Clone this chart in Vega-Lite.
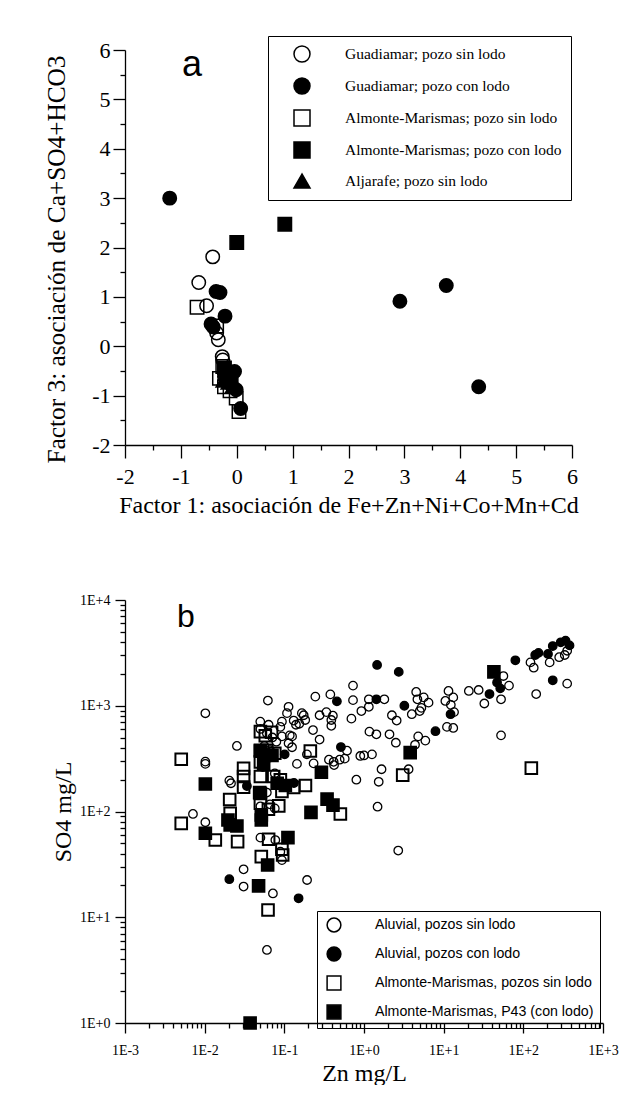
{
  "$schema": "https://vega.github.io/schema/vega-lite/v6.json",
  "background": "white",
  "padding": {"left": 44, "top": 35, "right": 0, "bottom": 0},
  "spacing": 76,
  "resolve": {
    "scale": {"shape": "independent", "fill": "independent", "stroke": "independent"},
    "legend": {"shape": "independent", "fill": "independent", "stroke": "independent"}
  },
  "config": {
    "view": {"stroke": null},
    "legend": {"symbolStrokeColor": "black"},
    "axis": {
      "grid": false,
      "labelFont": "Liberation Serif",
      "titleFont": "Liberation Serif",
      "titleFontWeight": "normal",
      "labelColor": "black",
      "titleColor": "black",
      "domainColor": "black",
      "tickColor": "black",
      "domainWidth": 1.3,
      "tickWidth": 1.3,
      "labelOverlap": false,
      "labelFlush": false
    }
  },
  "datasets": {
    "pa": [
      {"x": -0.43, "y": 1.81, "g": "Guadiamar; pozo sin lodo"},
      {"x": -0.68, "y": 1.29, "g": "Guadiamar; pozo sin lodo"},
      {"x": -0.54, "y": 0.82, "g": "Guadiamar; pozo sin lodo"},
      {"x": -0.36, "y": 0.27, "g": "Guadiamar; pozo sin lodo"},
      {"x": -0.33, "y": 0.13, "g": "Guadiamar; pozo sin lodo"},
      {"x": -0.26, "y": -0.21, "g": "Guadiamar; pozo sin lodo"},
      {"x": -0.25, "y": -0.28, "g": "Guadiamar; pozo sin lodo"},
      {"x": -0.71, "y": 0.79, "g": "Almonte-Marismas; pozo sin lodo"},
      {"x": -0.36, "y": 0.41, "g": "Almonte-Marismas; pozo sin lodo"},
      {"x": -0.31, "y": -0.65, "g": "Almonte-Marismas; pozo sin lodo"},
      {"x": -0.22, "y": -0.82, "g": "Almonte-Marismas; pozo sin lodo"},
      {"x": -0.01, "y": -1.05, "g": "Almonte-Marismas; pozo sin lodo"},
      {"x": 0.04, "y": -1.32, "g": "Almonte-Marismas; pozo sin lodo"},
      {"x": -0.25, "y": -0.41, "g": "Almonte-Marismas; pozo sin lodo"},
      {"x": -0.12, "y": -0.9, "g": "Almonte-Marismas; pozo sin lodo"},
      {"x": -1.2, "y": 3.0, "g": "Guadiamar; pozo con lodo"},
      {"x": 2.92, "y": 0.91, "g": "Guadiamar; pozo con lodo"},
      {"x": 3.75, "y": 1.23, "g": "Guadiamar; pozo con lodo"},
      {"x": 4.33, "y": -0.82, "g": "Guadiamar; pozo con lodo"},
      {"x": -0.37, "y": 1.11, "g": "Guadiamar; pozo con lodo"},
      {"x": -0.3, "y": 1.09, "g": "Guadiamar; pozo con lodo"},
      {"x": -0.21, "y": 0.61, "g": "Guadiamar; pozo con lodo"},
      {"x": -0.46, "y": 0.45, "g": "Guadiamar; pozo con lodo"},
      {"x": -0.42, "y": 0.39, "g": "Guadiamar; pozo con lodo"},
      {"x": -0.04, "y": -0.51, "g": "Guadiamar; pozo con lodo"},
      {"x": -0.1, "y": -0.78, "g": "Guadiamar; pozo con lodo"},
      {"x": -0.01, "y": -0.88, "g": "Guadiamar; pozo con lodo"},
      {"x": 0.07, "y": -1.26, "g": "Guadiamar; pozo con lodo"},
      {"x": -0.16, "y": -0.58, "g": "Guadiamar; pozo con lodo"},
      {"x": -0.22, "y": -0.62, "g": "Guadiamar; pozo con lodo"},
      {"x": 0.0, "y": 2.1, "g": "Almonte-Marismas; pozo con lodo"},
      {"x": 0.86, "y": 2.47, "g": "Almonte-Marismas; pozo con lodo"},
      {"x": -0.22, "y": -0.44, "g": "Almonte-Marismas; pozo con lodo"},
      {"x": -0.15, "y": -0.55, "g": "Almonte-Marismas; pozo con lodo"},
      {"x": -0.1, "y": -0.7, "g": "Almonte-Marismas; pozo con lodo"},
      {"x": -0.25, "y": -0.71, "g": "Aljarafe; pozo sin lodo"},
      {"x": -0.16, "y": -0.75, "g": "Aljarafe; pozo sin lodo"},
      {"x": -0.08, "y": -0.82, "g": "Aljarafe; pozo sin lodo"}
    ],
    "pb": [
      {"zn": 123, "so4": 2570, "g": "Aluvial, pozos sin lodo"},
      {"zn": 135, "so4": 2290, "g": "Aluvial, pozos sin lodo"},
      {"zn": 214, "so4": 2570, "g": "Aluvial, pozos sin lodo"},
      {"zn": 282, "so4": 2880, "g": "Aluvial, pozos sin lodo"},
      {"zn": 331, "so4": 3020, "g": "Aluvial, pozos sin lodo"},
      {"zn": 355, "so4": 3310, "g": "Aluvial, pozos sin lodo"},
      {"zn": 145, "so4": 1290, "g": "Aluvial, pozos sin lodo"},
      {"zn": 355, "so4": 1620, "g": "Aluvial, pozos sin lodo"},
      {"zn": 56.2, "so4": 1910, "g": "Aluvial, pozos sin lodo"},
      {"zn": 66.1, "so4": 1550, "g": "Aluvial, pozos sin lodo"},
      {"zn": 52.5, "so4": 1150, "g": "Aluvial, pozos sin lodo"},
      {"zn": 52.5, "so4": 525, "g": "Aluvial, pozos sin lodo"},
      {"zn": 20.7, "so4": 1380, "g": "Aluvial, pozos sin lodo"},
      {"zn": 27.5, "so4": 1410, "g": "Aluvial, pozos sin lodo"},
      {"zn": 32.4, "so4": 1050, "g": "Aluvial, pozos sin lodo"},
      {"zn": 11.5, "so4": 1380, "g": "Aluvial, pozos sin lodo"},
      {"zn": 10.5, "so4": 1110, "g": "Aluvial, pozos sin lodo"},
      {"zn": 13.2, "so4": 1200, "g": "Aluvial, pozos sin lodo"},
      {"zn": 12.3, "so4": 1020, "g": "Aluvial, pozos sin lodo"},
      {"zn": 13.5, "so4": 871, "g": "Aluvial, pozos sin lodo"},
      {"zn": 11.0, "so4": 631, "g": "Aluvial, pozos sin lodo"},
      {"zn": 13.2, "so4": 617, "g": "Aluvial, pozos sin lodo"},
      {"zn": 4.52, "so4": 1350, "g": "Aluvial, pozos sin lodo"},
      {"zn": 4.68, "so4": 1150, "g": "Aluvial, pozos sin lodo"},
      {"zn": 5.62, "so4": 1200, "g": "Aluvial, pozos sin lodo"},
      {"zn": 6.46, "so4": 1070, "g": "Aluvial, pozos sin lodo"},
      {"zn": 5.25, "so4": 955, "g": "Aluvial, pozos sin lodo"},
      {"zn": 5.01, "so4": 891, "g": "Aluvial, pozos sin lodo"},
      {"zn": 3.98, "so4": 832, "g": "Aluvial, pozos sin lodo"},
      {"zn": 2.24, "so4": 813, "g": "Aluvial, pozos sin lodo"},
      {"zn": 2.57, "so4": 724, "g": "Aluvial, pozos sin lodo"},
      {"zn": 1.8, "so4": 1150, "g": "Aluvial, pozos sin lodo"},
      {"zn": 1.15, "so4": 1150, "g": "Aluvial, pozos sin lodo"},
      {"zn": 1.15, "so4": 977, "g": "Aluvial, pozos sin lodo"},
      {"zn": 1.17, "so4": 569, "g": "Aluvial, pozos sin lodo"},
      {"zn": 1.43, "so4": 537, "g": "Aluvial, pozos sin lodo"},
      {"zn": 2.09, "so4": 537, "g": "Aluvial, pozos sin lodo"},
      {"zn": 2.51, "so4": 447, "g": "Aluvial, pozos sin lodo"},
      {"zn": 4.79, "so4": 513, "g": "Aluvial, pozos sin lodo"},
      {"zn": 5.89, "so4": 468, "g": "Aluvial, pozos sin lodo"},
      {"zn": 4.37, "so4": 427, "g": "Aluvial, pozos sin lodo"},
      {"zn": 1.0, "so4": 339, "g": "Aluvial, pozos sin lodo"},
      {"zn": 1.26, "so4": 347, "g": "Aluvial, pozos sin lodo"},
      {"zn": 1.66, "so4": 251, "g": "Aluvial, pozos sin lodo"},
      {"zn": 1.53, "so4": 191, "g": "Aluvial, pozos sin lodo"},
      {"zn": 1.48, "so4": 111, "g": "Aluvial, pozos sin lodo"},
      {"zn": 3.63, "so4": 251, "g": "Aluvial, pozos sin lodo"},
      {"zn": 2.69, "so4": 42.7, "g": "Aluvial, pozos sin lodo"},
      {"zn": 0.728, "so4": 1550, "g": "Aluvial, pozos sin lodo"},
      {"zn": 0.245, "so4": 1220, "g": "Aluvial, pozos sin lodo"},
      {"zn": 0.378, "so4": 1280, "g": "Aluvial, pozos sin lodo"},
      {"zn": 0.728, "so4": 1130, "g": "Aluvial, pozos sin lodo"},
      {"zn": 0.927, "so4": 891, "g": "Aluvial, pozos sin lodo"},
      {"zn": 0.407, "so4": 805, "g": "Aluvial, pozos sin lodo"},
      {"zn": 0.337, "so4": 871, "g": "Aluvial, pozos sin lodo"},
      {"zn": 0.277, "so4": 813, "g": "Aluvial, pozos sin lodo"},
      {"zn": 0.166, "so4": 851, "g": "Aluvial, pozos sin lodo"},
      {"zn": 0.183, "so4": 733, "g": "Aluvial, pozos sin lodo"},
      {"zn": 0.154, "so4": 676, "g": "Aluvial, pozos sin lodo"},
      {"zn": 0.131, "so4": 724, "g": "Aluvial, pozos sin lodo"},
      {"zn": 0.14, "so4": 661, "g": "Aluvial, pozos sin lodo"},
      {"zn": 0.113, "so4": 977, "g": "Aluvial, pozos sin lodo"},
      {"zn": 0.108, "so4": 851, "g": "Aluvial, pozos sin lodo"},
      {"zn": 0.0933, "so4": 708, "g": "Aluvial, pozos sin lodo"},
      {"zn": 0.0622, "so4": 1120, "g": "Aluvial, pozos sin lodo"},
      {"zn": 0.389, "so4": 733, "g": "Aluvial, pozos sin lodo"},
      {"zn": 0.389, "so4": 646, "g": "Aluvial, pozos sin lodo"},
      {"zn": 0.229, "so4": 589, "g": "Aluvial, pozos sin lodo"},
      {"zn": 0.277, "so4": 479, "g": "Aluvial, pozos sin lodo"},
      {"zn": 0.612, "so4": 376, "g": "Aluvial, pozos sin lodo"},
      {"zn": 0.899, "so4": 335, "g": "Aluvial, pozos sin lodo"},
      {"zn": 0.363, "so4": 309, "g": "Aluvial, pozos sin lodo"},
      {"zn": 0.416, "so4": 295, "g": "Aluvial, pozos sin lodo"},
      {"zn": 0.495, "so4": 309, "g": "Aluvial, pozos sin lodo"},
      {"zn": 0.573, "so4": 316, "g": "Aluvial, pozos sin lodo"},
      {"zn": 0.802, "so4": 200, "g": "Aluvial, pozos sin lodo"},
      {"zn": 0.144, "so4": 282, "g": "Aluvial, pozos sin lodo"},
      {"zn": 0.192, "so4": 347, "g": "Aluvial, pozos sin lodo"},
      {"zn": 0.233, "so4": 285, "g": "Aluvial, pozos sin lodo"},
      {"zn": 0.113, "so4": 442, "g": "Aluvial, pozos sin lodo"},
      {"zn": 0.125, "so4": 513, "g": "Aluvial, pozos sin lodo"},
      {"zn": 0.0933, "so4": 513, "g": "Aluvial, pozos sin lodo"},
      {"zn": 0.0635, "so4": 661, "g": "Aluvial, pozos sin lodo"},
      {"zn": 0.0499, "so4": 708, "g": "Aluvial, pozos sin lodo"},
      {"zn": 0.0254, "so4": 417, "g": "Aluvial, pozos sin lodo"},
      {"zn": 0.0102, "so4": 849, "g": "Aluvial, pozos sin lodo"},
      {"zn": 0.175, "so4": 813, "g": "Aluvial, pozos sin lodo"},
      {"zn": 0.695, "so4": 755, "g": "Aluvial, pozos sin lodo"},
      {"zn": 0.0102, "so4": 296, "g": "Aluvial, pozos sin lodo"},
      {"zn": 0.0102, "so4": 282, "g": "Aluvial, pozos sin lodo"},
      {"zn": 0.0891, "so4": 631, "g": "Aluvial, pozos sin lodo"},
      {"zn": 0.117, "so4": 525, "g": "Aluvial, pozos sin lodo"},
      {"zn": 0.125, "so4": 405, "g": "Aluvial, pozos sin lodo"},
      {"zn": 0.421, "so4": 275, "g": "Aluvial, pozos sin lodo"},
      {"zn": 0.0204, "so4": 196, "g": "Aluvial, pozos sin lodo"},
      {"zn": 0.0214, "so4": 185, "g": "Aluvial, pozos sin lodo"},
      {"zn": 0.00713, "so4": 94.8, "g": "Aluvial, pozos sin lodo"},
      {"zn": 0.0102, "so4": 79.1, "g": "Aluvial, pozos sin lodo"},
      {"zn": 0.0501, "so4": 56.6, "g": "Aluvial, pozos sin lodo"},
      {"zn": 0.0771, "so4": 53.7, "g": "Aluvial, pozos sin lodo"},
      {"zn": 0.0308, "so4": 28.4, "g": "Aluvial, pozos sin lodo"},
      {"zn": 0.0308, "so4": 19.5, "g": "Aluvial, pozos sin lodo"},
      {"zn": 0.0719, "so4": 16.8, "g": "Aluvial, pozos sin lodo"},
      {"zn": 0.193, "so4": 22.5, "g": "Aluvial, pozos sin lodo"},
      {"zn": 0.0605, "so4": 4.91, "g": "Aluvial, pozos sin lodo"},
      {"zn": 0.0891, "so4": 41.7, "g": "Aluvial, pozos sin lodo"},
      {"zn": 0.0933, "so4": 34.7, "g": "Aluvial, pozos sin lodo"},
      {"zn": 0.0501, "so4": 603, "g": "Aluvial, pozos sin lodo"},
      {"zn": 0.0603, "so4": 550, "g": "Aluvial, pozos sin lodo"},
      {"zn": 0.0708, "so4": 501, "g": "Aluvial, pozos sin lodo"},
      {"zn": 0.0794, "so4": 457, "g": "Aluvial, pozos sin lodo"},
      {"zn": 0.0562, "so4": 417, "g": "Aluvial, pozos sin lodo"},
      {"zn": 0.0661, "so4": 380, "g": "Aluvial, pozos sin lodo"},
      {"zn": 0.0537, "so4": 263, "g": "Aluvial, pozos sin lodo"},
      {"zn": 0.0759, "so4": 229, "g": "Aluvial, pozos sin lodo"},
      {"zn": 0.0501, "so4": 112, "g": "Aluvial, pozos sin lodo"},
      {"zn": 0.0661, "so4": 117, "g": "Aluvial, pozos sin lodo"},
      {"zn": 0.0759, "so4": 107, "g": "Aluvial, pozos sin lodo"},
      {"zn": 0.0603, "so4": 151, "g": "Aluvial, pozos sin lodo"},
      {"zn": 0.00508, "so4": 312, "g": "Almonte-Marismas, pozos sin lodo"},
      {"zn": 0.00508, "so4": 77.3, "g": "Almonte-Marismas, pozos sin lodo"},
      {"zn": 0.0136, "so4": 53.8, "g": "Almonte-Marismas, pozos sin lodo"},
      {"zn": 0.0259, "so4": 51.9, "g": "Almonte-Marismas, pozos sin lodo"},
      {"zn": 0.0206, "so4": 130, "g": "Almonte-Marismas, pozos sin lodo"},
      {"zn": 0.0209, "so4": 96.2, "g": "Almonte-Marismas, pozos sin lodo"},
      {"zn": 0.0308, "so4": 256, "g": "Almonte-Marismas, pozos sin lodo"},
      {"zn": 0.0308, "so4": 214, "g": "Almonte-Marismas, pozos sin lodo"},
      {"zn": 0.0308, "so4": 170, "g": "Almonte-Marismas, pozos sin lodo"},
      {"zn": 0.0501, "so4": 569, "g": "Almonte-Marismas, pozos sin lodo"},
      {"zn": 0.0501, "so4": 372, "g": "Almonte-Marismas, pozos sin lodo"},
      {"zn": 0.0501, "so4": 214, "g": "Almonte-Marismas, pozos sin lodo"},
      {"zn": 0.0577, "so4": 521, "g": "Almonte-Marismas, pozos sin lodo"},
      {"zn": 0.0692, "so4": 562, "g": "Almonte-Marismas, pozos sin lodo"},
      {"zn": 0.0735, "so4": 214, "g": "Almonte-Marismas, pozos sin lodo"},
      {"zn": 0.0891, "so4": 199, "g": "Almonte-Marismas, pozos sin lodo"},
      {"zn": 0.0933, "so4": 155, "g": "Almonte-Marismas, pozos sin lodo"},
      {"zn": 0.0851, "so4": 113, "g": "Almonte-Marismas, pozos sin lodo"},
      {"zn": 0.131, "so4": 169, "g": "Almonte-Marismas, pozos sin lodo"},
      {"zn": 0.184, "so4": 176, "g": "Almonte-Marismas, pozos sin lodo"},
      {"zn": 0.212, "so4": 373, "g": "Almonte-Marismas, pozos sin lodo"},
      {"zn": 0.505, "so4": 94.8, "g": "Almonte-Marismas, pozos sin lodo"},
      {"zn": 0.0635, "so4": 54.6, "g": "Almonte-Marismas, pozos sin lodo"},
      {"zn": 0.0933, "so4": 44.0, "g": "Almonte-Marismas, pozos sin lodo"},
      {"zn": 0.0953, "so4": 38.8, "g": "Almonte-Marismas, pozos sin lodo"},
      {"zn": 0.0514, "so4": 37.4, "g": "Almonte-Marismas, pozos sin lodo"},
      {"zn": 0.0624, "so4": 11.7, "g": "Almonte-Marismas, pozos sin lodo"},
      {"zn": 3.06, "so4": 221, "g": "Almonte-Marismas, pozos sin lodo"},
      {"zn": 126, "so4": 257, "g": "Almonte-Marismas, pozos sin lodo"},
      {"zn": 0.0501, "so4": 295, "g": "Almonte-Marismas, pozos sin lodo"},
      {"zn": 0.0603, "so4": 380, "g": "Almonte-Marismas, pozos sin lodo"},
      {"zn": 0.0759, "so4": 355, "g": "Almonte-Marismas, pozos sin lodo"},
      {"zn": 0.0501, "so4": 120, "g": "Almonte-Marismas, pozos sin lodo"},
      {"zn": 0.0631, "so4": 105, "g": "Almonte-Marismas, pozos sin lodo"},
      {"zn": 0.049, "so4": 151, "g": "Almonte-Marismas, pozos sin lodo"},
      {"zn": 1.46, "so4": 2430, "g": "Aluvial, pozos con lodo"},
      {"zn": 2.73, "so4": 2090, "g": "Aluvial, pozos con lodo"},
      {"zn": 1.43, "so4": 1150, "g": "Aluvial, pozos con lodo"},
      {"zn": 3.21, "so4": 1000, "g": "Aluvial, pozos con lodo"},
      {"zn": 7.89, "so4": 575, "g": "Aluvial, pozos con lodo"},
      {"zn": 12.2, "so4": 832, "g": "Aluvial, pozos con lodo"},
      {"zn": 37.6, "so4": 1290, "g": "Aluvial, pozos con lodo"},
      {"zn": 51.3, "so4": 1460, "g": "Aluvial, pozos con lodo"},
      {"zn": 46.8, "so4": 1660, "g": "Aluvial, pozos con lodo"},
      {"zn": 79.4, "so4": 2690, "g": "Aluvial, pozos con lodo"},
      {"zn": 141, "so4": 3020, "g": "Aluvial, pozos con lodo"},
      {"zn": 155, "so4": 3160, "g": "Aluvial, pozos con lodo"},
      {"zn": 204, "so4": 3090, "g": "Aluvial, pozos con lodo"},
      {"zn": 234, "so4": 3670, "g": "Aluvial, pozos con lodo"},
      {"zn": 295, "so4": 3980, "g": "Aluvial, pozos con lodo"},
      {"zn": 339, "so4": 4120, "g": "Aluvial, pozos con lodo"},
      {"zn": 380, "so4": 3720, "g": "Aluvial, pozos con lodo"},
      {"zn": 234, "so4": 1740, "g": "Aluvial, pozos con lodo"},
      {"zn": 0.457, "so4": 1100, "g": "Aluvial, pozos con lodo"},
      {"zn": 0.513, "so4": 407, "g": "Aluvial, pozos con lodo"},
      {"zn": 0.101, "so4": 347, "g": "Aluvial, pozos con lodo"},
      {"zn": 0.0339, "so4": 174, "g": "Aluvial, pozos con lodo"},
      {"zn": 0.0204, "so4": 22.9, "g": "Aluvial, pozos con lodo"},
      {"zn": 0.151, "so4": 15.1, "g": "Aluvial, pozos con lodo"},
      {"zn": 0.0575, "so4": 339, "g": "Aluvial, pozos con lodo"},
      {"zn": 0.132, "so4": 186, "g": "Aluvial, pozos con lodo"},
      {"zn": 0.0102, "so4": 182, "g": "Almonte-Marismas, P43 (con lodo)"},
      {"zn": 0.0102, "so4": 62.2, "g": "Almonte-Marismas, P43 (con lodo)"},
      {"zn": 0.0196, "so4": 83.2, "g": "Almonte-Marismas, P43 (con lodo)"},
      {"zn": 0.0209, "so4": 74.6, "g": "Almonte-Marismas, P43 (con lodo)"},
      {"zn": 0.0254, "so4": 72.9, "g": "Almonte-Marismas, P43 (con lodo)"},
      {"zn": 0.0514, "so4": 83.2, "g": "Almonte-Marismas, P43 (con lodo)"},
      {"zn": 0.0617, "so4": 31.2, "g": "Almonte-Marismas, P43 (con lodo)"},
      {"zn": 0.0475, "so4": 19.8, "g": "Almonte-Marismas, P43 (con lodo)"},
      {"zn": 0.111, "so4": 56.6, "g": "Almonte-Marismas, P43 (con lodo)"},
      {"zn": 0.216, "so4": 98.2, "g": "Almonte-Marismas, P43 (con lodo)"},
      {"zn": 0.292, "so4": 235, "g": "Almonte-Marismas, P43 (con lodo)"},
      {"zn": 0.344, "so4": 131, "g": "Almonte-Marismas, P43 (con lodo)"},
      {"zn": 0.408, "so4": 115, "g": "Almonte-Marismas, P43 (con lodo)"},
      {"zn": 0.0501, "so4": 380, "g": "Almonte-Marismas, P43 (con lodo)"},
      {"zn": 0.0562, "so4": 339, "g": "Almonte-Marismas, P43 (con lodo)"},
      {"zn": 0.07, "so4": 339, "g": "Almonte-Marismas, P43 (con lodo)"},
      {"zn": 0.0501, "so4": 148, "g": "Almonte-Marismas, P43 (con lodo)"},
      {"zn": 0.0813, "so4": 185, "g": "Almonte-Marismas, P43 (con lodo)"},
      {"zn": 0.103, "so4": 176, "g": "Almonte-Marismas, P43 (con lodo)"},
      {"zn": 3.8, "so4": 360, "g": "Almonte-Marismas, P43 (con lodo)"},
      {"zn": 42.7, "so4": 2090, "g": "Almonte-Marismas, P43 (con lodo)"},
      {"zn": 0.0372, "so4": 1, "g": "Almonte-Marismas, P43 (con lodo)"},
      {"zn": 0.0514, "so4": 92.7, "g": "Almonte-Marismas, P43 (con lodo)"},
      {"zn": 0.055, "so4": 285, "g": "Almonte-Marismas, P43 (con lodo)"}
    ]
  },
  "vconcat": [
    {
      "width": 447,
      "height": 395,
      "data": {"name": "pa"},
      "title": {"text": "a", "anchor": "start", "frame": "group", "font": "Liberation Sans", "fontSize": 36, "fontWeight": "normal", "color": "black", "orient": "top", "offset": -48, "dx": 57},
      "mark": {"type": "point", "filled": true, "opacity": 1, "strokeWidth": 1.5, "size": 180, "clip": false},
      "encoding": {
        "x": {
          "field": "x", "type": "quantitative",
          "scale": {"domain": [-2, 6], "nice": false, "zero": false},
          "axis": {
            "title": "Factor 1: asociación de Fe+Zn+Ni+Co+Mn+Cd",
            "titleFontSize": 24, "labelFontSize": 22, "labelPadding": 8, "titlePadding": 6,
            "values": [-2, -1.5, -1, -0.5, 0, 0.5, 1, 1.5, 2, 2.5, 3, 3.5, 4, 4.5, 5, 5.5, 6],
            "labelExpr": "datum.value % 1 == 0 ? '' + datum.value : ''",
            "tickSize": {"condition": {"test": "datum.value % 1 != 0", "value": 5}, "value": 13}
          }
        },
        "y": {
          "field": "y", "type": "quantitative",
          "scale": {"domain": [-2, 6], "nice": false, "zero": false},
          "axis": {
            "title": "Factor 3: asociación de Ca+SO4+HCO3",
            "titleFontSize": 25.3, "labelFontSize": 22, "labelPadding": 3, "titlePadding": 22, "titleY": 209,
            "values": [-2, -1.5, -1, -0.5, 0, 0.5, 1, 1.5, 2, 2.5, 3, 3.5, 4, 4.5, 5, 5.5, 6],
            "labelExpr": "datum.value % 1 == 0 ? '' + datum.value : ''",
            "tickSize": {"condition": {"test": "datum.value % 1 != 0", "value": 5}, "value": 12}
          }
        },
        "shape": {
          "field": "g", "type": "nominal",
          "scale": {"domain": ["Guadiamar; pozo sin lodo", "Guadiamar; pozo con lodo", "Almonte-Marismas; pozo sin lodo", "Almonte-Marismas; pozo con lodo", "Aljarafe; pozo sin lodo"], "range": ["circle", "circle", "square", "square", "triangle-up"]},
          "legend": {"orient": "none", "legendX": 143, "legendY": -14, "title": null, "strokeColor": "black", "padding": 9, "symbolSize": 256, "symbolStrokeWidth": 1.5, "symbolOffset": 16, "labelOffset": 34, "labelFont": "Liberation Serif", "labelFontSize": 15.5, "labelColor": "black", "rowPadding": 10, "labelLimit": 400}
        },
        "fill": {
          "field": "g", "type": "nominal",
          "scale": {"domain": ["Guadiamar; pozo sin lodo", "Guadiamar; pozo con lodo", "Almonte-Marismas; pozo sin lodo", "Almonte-Marismas; pozo con lodo", "Aljarafe; pozo sin lodo"], "range": ["transparent", "black", "transparent", "black", "black"]},
          "legend": {"orient": "none", "legendX": 143, "legendY": -14, "title": null, "strokeColor": "black", "padding": 9, "symbolSize": 256, "symbolStrokeWidth": 1.5, "symbolOffset": 16, "labelOffset": 34, "labelFont": "Liberation Serif", "labelFontSize": 15.5, "labelColor": "black", "rowPadding": 10, "labelLimit": 400}
        },
        "stroke": {
          "field": "g", "type": "nominal",
          "scale": {"domain": ["Guadiamar; pozo sin lodo", "Guadiamar; pozo con lodo", "Almonte-Marismas; pozo sin lodo", "Almonte-Marismas; pozo con lodo", "Aljarafe; pozo sin lodo"], "range": ["black", "black", "black", "black", "black"]},
          "legend": {"orient": "none", "legendX": 143, "legendY": -14, "title": null, "strokeColor": "black", "padding": 9, "symbolSize": 256, "symbolStrokeWidth": 1.5, "symbolOffset": 16, "labelOffset": 34, "labelFont": "Liberation Serif", "labelFontSize": 15.5, "labelColor": "black", "rowPadding": 10, "labelLimit": 400}
        }
      }
    },
    {
      "width": 478,
      "height": 423,
      "data": {"name": "pb"},
      "title": {"text": "b", "anchor": "start", "frame": "group", "font": "Liberation Sans", "fontSize": 32, "fontWeight": "normal", "color": "black", "orient": "top", "offset": -41, "dx": 52},
      "encoding": {
        "x": {
          "field": "zn", "type": "quantitative",
          "scale": {"type": "log", "domain": [0.001, 1000], "nice": false},
          "axis": {
            "title": "Zn mg/L",
            "titleFontSize": 24, "labelFontSize": 14, "labelPadding": 10, "titlePadding": 4,
            "values": [0.001, 0.002, 0.003, 0.004, 0.005, 0.006, 0.007, 0.008, 0.009, 0.01, 0.02, 0.03, 0.04, 0.05, 0.06, 0.07, 0.08, 0.09, 0.1, 0.2, 0.3, 0.4, 0.5, 0.6, 0.7, 0.8, 0.9, 1, 2, 3, 4, 5, 6, 7, 8, 9, 10, 20, 30, 40, 50, 60, 70, 80, 90, 100, 200, 300, 400, 500, 600, 700, 800, 900, 1000],
            "labelExpr": "abs(log(datum.value)/LN10 - round(log(datum.value)/LN10)) < 0.001 ? ('1E' + (datum.value >= 1 ? '+' : '') + round(log(datum.value)/LN10)) : ''",
            "tickSize": {"condition": {"test": "abs(log(datum.value)/LN10 - round(log(datum.value)/LN10)) < 0.001", "value": 10}, "value": 5}
          }
        },
        "y": {
          "field": "so4", "type": "quantitative",
          "scale": {"type": "log", "domain": [1, 10000], "nice": false},
          "axis": {
            "title": "SO4 mg/L",
            "titleFontSize": 24, "labelFontSize": 14, "labelPadding": 5, "titlePadding": 4,
            "values": [1, 2, 3, 4, 5, 6, 7, 8, 9, 10, 20, 30, 40, 50, 60, 70, 80, 90, 100, 200, 300, 400, 500, 600, 700, 800, 900, 1000, 2000, 3000, 4000, 5000, 6000, 7000, 8000, 9000, 10000],
            "labelExpr": "abs(log(datum.value)/LN10 - round(log(datum.value)/LN10)) < 0.001 ? ('1E' + (datum.value >= 1 ? '+' : '') + round(log(datum.value)/LN10)) : ''",
            "tickSize": {"condition": {"test": "abs(log(datum.value)/LN10 - round(log(datum.value)/LN10)) < 0.001", "value": 10}, "value": 5}
          }
        },
        "shape": {
          "field": "g", "type": "nominal",
          "scale": {"domain": ["Aluvial, pozos sin lodo", "Aluvial, pozos con lodo", "Almonte-Marismas, pozos sin lodo", "Almonte-Marismas, P43 (con lodo)"], "range": ["circle", "circle", "square", "square"]},
          "legend": {"orient": "none", "legendX": 192, "legendY": 311, "title": null, "strokeColor": "black", "padding": 6, "symbolSize": 190, "symbolStrokeWidth": 1.5, "symbolOffset": 3, "labelOffset": 33, "labelFont": "Liberation Sans", "labelFontSize": 14.2, "labelColor": "black", "rowPadding": 9, "labelLimit": 400}
        },
        "fill": {
          "field": "g", "type": "nominal",
          "scale": {"domain": ["Aluvial, pozos sin lodo", "Aluvial, pozos con lodo", "Almonte-Marismas, pozos sin lodo", "Almonte-Marismas, P43 (con lodo)"], "range": ["transparent", "black", "transparent", "black"]},
          "legend": {"orient": "none", "legendX": 192, "legendY": 311, "title": null, "strokeColor": "black", "padding": 6, "symbolSize": 190, "symbolStrokeWidth": 1.5, "symbolOffset": 3, "labelOffset": 33, "labelFont": "Liberation Sans", "labelFontSize": 14.2, "labelColor": "black", "rowPadding": 9, "labelLimit": 400}
        },
        "stroke": {
          "field": "g", "type": "nominal",
          "scale": {"domain": ["Aluvial, pozos sin lodo", "Aluvial, pozos con lodo", "Almonte-Marismas, pozos sin lodo", "Almonte-Marismas, P43 (con lodo)"], "range": ["black", "black", "black", "black"]},
          "legend": {"orient": "none", "legendX": 192, "legendY": 311, "title": null, "strokeColor": "black", "padding": 6, "symbolSize": 190, "symbolStrokeWidth": 1.5, "symbolOffset": 3, "labelOffset": 33, "labelFont": "Liberation Sans", "labelFontSize": 14.2, "labelColor": "black", "rowPadding": 9, "labelLimit": 400}
        }
      },
      "layer": [
        {
          "transform": [{"filter": "indexof(datum.g, 'Aluvial') == 0"}],
          "mark": {"type": "point", "filled": true, "opacity": 1, "size": 72, "strokeWidth": 1.3, "clip": false}
        },
        {
          "transform": [{"filter": "indexof(datum.g, 'Almonte') == 0"}],
          "mark": {"type": "point", "filled": true, "opacity": 1, "size": 135, "strokeWidth": 2, "clip": false}
        }
      ]
    }
  ]
}
